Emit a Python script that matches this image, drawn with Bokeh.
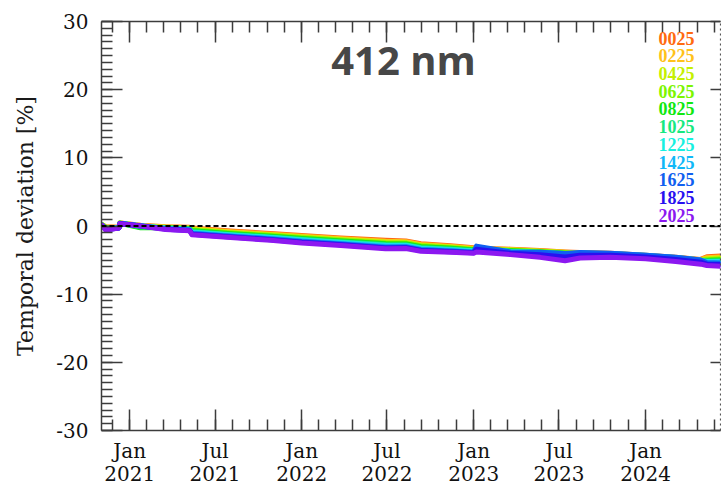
import pandas as pd
from bokeh.plotting import figure
from bokeh.models import (Range1d, FixedTicker, LinearAxis, DatetimeAxis, Span, Label,
                          CustomJSTickFormatter, ColumnDataSource)
from bokeh.embed import file_html
from bokeh.resources import INLINE

# ---------------- data ----------------
dates = ["2020-11-03", "2020-11-11", "2020-12-09", "2020-12-11", "2021-01-24", "2021-03-18",
         "2021-05-08", "2021-05-13", "2021-08-03", "2021-10-27", "2022-01-01", "2022-03-25",
         "2022-06-28", "2022-08-10", "2022-09-11", "2022-11-13", "2023-01-01", "2023-01-07",
         "2023-03-20", "2023-05-22", "2023-07-14", "2023-08-15", "2023-10-18", "2024-01-01",
         "2024-03-05", "2024-04-27", "2024-05-10", "2024-06-08"]

names = ["0025", "0225", "0425", "0625", "0825", "1025", "1225", "1425", "1625", "1825", "2025"]
colors = ["#FF6A10", "#FFC21A", "#C4F000", "#7CF500", "#10E810", "#18E880",
          "#18F0E0", "#10B8F8", "#1060F0", "#2810F0", "#8C18F0"]

s0025 = [0.20, -0.10, -0.20, 0.45, 0.10, -0.10, -0.20, -0.30, -0.75, -1.10, -1.40, -1.75, -2.10, -2.20,
         -2.60, -2.90, -3.20, -3.25, -3.40, -3.60, -3.80, -3.90, -4.00, -4.30, -4.60, -4.90, -4.50, -4.40]
s0225 = [0.20, -0.15, -0.21, 0.44, 0.05, -0.14, -0.25, -0.40, -0.85, -1.20, -1.51, -1.86, -2.23, -2.31,
         -2.71, -3.00, -3.28, -3.30, -3.46, -3.65, -3.85, -3.95, -4.05, -4.32, -4.62, -4.95, -4.65, -4.55]
s0425 = [0.20, -0.20, -0.22, 0.43, -0.05, -0.18, -0.30, -0.50, -0.94, -1.30, -1.62, -1.97, -2.35, -2.42,
         -2.82, -3.09, -3.36, -3.35, -3.52, -3.70, -3.90, -4.00, -4.10, -4.35, -4.66, -5.00, -4.80, -4.70]
s0625 = [0.15, -0.25, -0.23, 0.42, -0.20, -0.22, -0.35, -0.60, -1.04, -1.40, -1.73, -2.08, -2.48, -2.53,
         -2.93, -3.19, -3.44, -3.40, -3.58, -3.75, -3.95, -4.05, -4.12, -4.40, -4.72, -5.05, -4.95, -4.85]
s0825 = [0.15, -0.30, -0.24, 0.41, -0.25, -0.26, -0.40, -0.70, -1.13, -1.50, -1.84, -2.19, -2.60, -2.64,
         -3.04, -3.28, -3.52, -3.40, -3.64, -3.80, -4.00, -4.10, -4.15, -4.45, -4.75, -5.10, -5.05, -5.00]
s1025 = [0.15, -0.35, -0.25, 0.40, -0.10, -0.30, -0.45, -0.80, -1.23, -1.60, -1.95, -2.30, -2.73, -2.75,
         -3.15, -3.38, -3.60, -3.30, -3.70, -3.85, -4.05, -4.05, -4.12, -4.40, -4.70, -5.10, -5.15, -5.10]
s1225 = [0.10, -0.40, -0.26, 0.39, 0.05, -0.34, -0.50, -0.90, -1.32, -1.70, -2.06, -2.41, -2.85, -2.86,
         -3.26, -3.47, -3.68, -3.20, -3.76, -3.90, -4.10, -4.00, -4.08, -4.35, -4.65, -5.05, -5.20, -5.20]
s1425 = [0.10, -0.45, -0.27, 0.38, 0.05, -0.38, -0.55, -1.00, -1.42, -1.80, -2.17, -2.52, -2.98, -2.97,
         -3.37, -3.57, -3.76, -3.10, -3.80, -3.90, -4.10, -3.95, -4.02, -4.30, -4.62, -5.00, -5.30, -5.30]
s1625 = [0.10, -0.50, -0.28, 0.37, 0.02, -0.42, -0.60, -1.10, -1.51, -1.90, -2.28, -2.63, -3.10, -3.08,
         -3.48, -3.66, -3.84, -2.95, -3.80, -3.85, -4.05, -3.90, -4.00, -4.28, -4.60, -5.00, -5.40, -5.45]
s1825 = [0.10, -0.55, -0.29, 0.36, 0.00, -0.46, -0.65, -1.20, -1.61, -2.00, -2.39, -2.74, -3.23, -3.19,
         -3.59, -3.76, -3.92, -3.40, -4.00, -4.20, -4.55, -4.30, -4.30, -4.55, -4.90, -5.30, -5.60, -5.65]
s2025 = [0.10, -0.60, -0.30, 0.35, 0.00, -0.50, -0.70, -1.30, -1.70, -2.10, -2.50, -2.85, -3.35, -3.30,
         -3.70, -3.85, -4.00, -3.80, -4.20, -4.60, -5.10, -4.70, -4.60, -4.80, -5.20, -5.60, -5.80, -5.90]

series = [s0025, s0225, s0425, s0625, s0825, s1025, s1225, s1425, s1625, s1825, s2025]

y_major = [-30, -20, -10, 0, 10, 20, 30]
x_major = ["2021-01-01", "2021-07-01", "2022-01-01", "2022-07-01", "2023-01-01", "2023-07-01", "2024-01-01"]
x_month_labels = ["Jan", "Jul", "Jan", "Jul", "Jan", "Jul", "Jan"]
x_year_labels = ["2021", "2021", "2022", "2022", "2023", "2023", "2024"]
x_start, x_end = "2020-11-02", "2024-06-08"
title_text = "412 nm"
y_label = "Temporal deviation [%]"

# ---------------- helpers ----------------
def ms(d):
    return pd.Timestamp(d).value / 1e6

xdt = pd.to_datetime(dates)
src = ColumnDataSource({"x": xdt, **{n: s for n, s in zip(names, series)}})

x_major_ms = [ms(d) for d in x_major]
# minor ticks: each 6-month interval split into 5
edges = [ms("2020-07-01")] + x_major_ms + [ms("2024-07-01")]
x_minor = []
for a, b in zip(edges[:-1], edges[1:]):
    for i in range(5):
        x_minor.append(a + (b - a) * i / 5)
y_minor = list(range(-30, 31))

TICK = "#3c3c3c"
LAB = "#111111"
SERIF = "DejaVu Serif"

LOOKUP = """
for (let i = 0; i < tk.length; i++) { if (Math.abs(tk[i] - tick) < 1e6) return lab[i]; }
return '';
"""

p = figure(width=721, height=485, output_backend="svg", toolbar_location=None,
           x_axis_type="datetime",
           x_range=Range1d(ms(x_start), ms(x_end)), y_range=Range1d(-30, 30),
           min_border_left=101, min_border_right=1, min_border_top=21, min_border_bottom=55)
p.outline_line_color = None
p.xgrid.visible = False
p.ygrid.visible = False
p.background_fill_color = "white"
p.border_fill_color = "white"

# left axis
ya = p.yaxis[0]
ya.ticker = FixedTicker(ticks=y_major, minor_ticks=y_minor)
ya.formatter = CustomJSTickFormatter(code="return tick.toFixed(0);")
ya.major_tick_in = 21
ya.major_tick_out = 0
ya.minor_tick_in = 11
ya.minor_tick_out = 0
ya.axis_line_color = TICK
ya.major_tick_line_color = TICK
ya.minor_tick_line_color = TICK
ya.axis_line_width = 1.5
ya.major_tick_line_width = 1.5
ya.minor_tick_line_width = 1.5
ya.major_label_text_font = SERIF
ya.major_label_text_font_size = "20px"
ya.major_label_text_color = LAB
ya.major_label_standoff = 13
ya.axis_label = y_label
ya.axis_label_text_font = SERIF
ya.axis_label_text_font_size = "22px"
ya.axis_label_text_font_style = "normal"
ya.axis_label_text_color = "#1a1a1a"
ya.axis_label_standoff = 15

# bottom axis: ticks + month labels
xa = p.xaxis[0]
xa.ticker = FixedTicker(ticks=x_major_ms, minor_ticks=x_minor)
xa.formatter = CustomJSTickFormatter(args=dict(tk=x_major_ms, lab=x_month_labels), code=LOOKUP)
xa.major_tick_in = 21
xa.major_tick_out = 0
xa.minor_tick_in = 11
xa.minor_tick_out = 0
xa.axis_line_color = TICK
xa.major_tick_line_color = TICK
xa.minor_tick_line_color = TICK
xa.axis_line_width = 1.5
xa.major_tick_line_width = 1.5
xa.minor_tick_line_width = 1.5
xa.major_label_text_font = SERIF
xa.major_label_text_font_size = "20px"
xa.major_label_text_color = LAB
xa.major_label_standoff = 8

# second bottom axis: year labels only
yr = DatetimeAxis(ticker=FixedTicker(ticks=x_major_ms, minor_ticks=[]),
                  formatter=CustomJSTickFormatter(args=dict(tk=x_major_ms, lab=x_year_labels), code=LOOKUP))
yr.axis_line_color = None
yr.major_tick_in = 0
yr.major_tick_out = 0
yr.minor_tick_in = 0
yr.minor_tick_out = 0
yr.major_label_text_font = SERIF
yr.major_label_text_font_size = "20px"
yr.major_label_text_color = LAB
yr.major_label_standoff = 0
p.add_layout(yr, "below")

# top axis (ticks only)
ta = DatetimeAxis(ticker=FixedTicker(ticks=x_major_ms, minor_ticks=x_minor),
                  formatter=CustomJSTickFormatter(code="return '';"))
ta.major_tick_in = 21
ta.major_tick_out = 0
ta.minor_tick_in = 11
ta.minor_tick_out = 0
ta.axis_line_color = TICK
ta.major_tick_line_color = TICK
ta.minor_tick_line_color = TICK
ta.axis_line_width = 1.5
ta.major_tick_line_width = 1.5
ta.minor_tick_line_width = 1.5
ta.major_label_text_font_size = "1px"
ta.major_label_standoff = 0
p.add_layout(ta, "above")

# right axis (dotted, major ticks only)
ra = LinearAxis(ticker=FixedTicker(ticks=y_major, minor_ticks=[]),
                formatter=CustomJSTickFormatter(code="return '';"))
ra.major_tick_in = 10
ra.major_tick_out = 0
ra.minor_tick_in = 0
ra.minor_tick_out = 0
ra.axis_line_color = "#555555"
ra.axis_line_dash = "2 3"
ra.axis_line_width = 1.2
ra.major_tick_line_color = TICK
ra.major_tick_line_width = 1.5
ra.major_label_text_font_size = "1px"
ra.major_label_standoff = 0
p.add_layout(ra, "right")

# zero line
p.add_layout(Span(location=0, dimension="width", line_color="black", line_width=2, line_dash="5 3"))

# series
for n, c in zip(names, colors):
    p.line(x="x", y=n, source=src, line_color=c, line_width=5, line_join="round", line_cap="round")

# title
p.add_layout(Label(x=302, y=371, x_units="screen", y_units="screen", text=title_text,
                   text_font="Open Sans", text_font_style="bold", text_font_size="40px",
                   text_color="#474747", text_align="center", text_baseline="middle"))

# series name labels
for i, (n, c) in enumerate(zip(names, colors)):
    p.add_layout(Label(x=575, y=392.4 - 17.7 * i, x_units="screen", y_units="screen", text=n,
                       text_font="Liberation Serif", text_font_style="bold", text_font_size="18px",
                       text_color=c, text_align="center", text_baseline="middle"))

open("out.html", "w").write(file_html(p, INLINE))
